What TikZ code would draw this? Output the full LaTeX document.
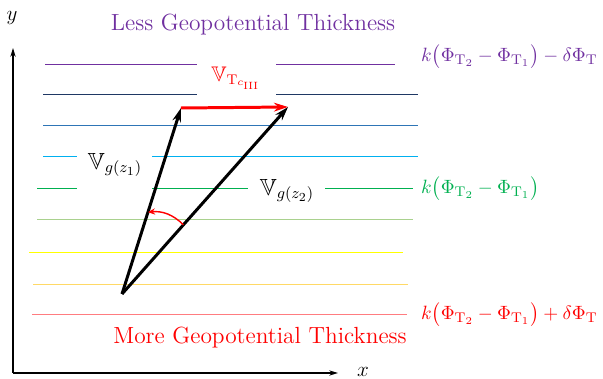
\documentclass[tikz,border=0pt]{standalone}
\usepackage{amsmath,amsfonts,amssymb}
\usepackage{tikz}
\usetikzlibrary{arrows.meta}
\usetikzlibrary{calc}
\usepackage{xcolor}

\definecolor{thinpurple}{RGB}{112,48,160}
\definecolor{thinnavy}{RGB}{31,56,100}
\definecolor{thinblue}{RGB}{46,117,182}
\definecolor{thincyan}{RGB}{0,176,240}
\definecolor{midgreen}{RGB}{0,176,80}
\definecolor{palegreen}{RGB}{169,209,142}
\definecolor{lineyellow}{RGB}{255,255,0}
\definecolor{linegold}{RGB}{255,217,102}
\definecolor{palered}{RGB}{255,124,128}
\definecolor{textred}{RGB}{255,0,0}

\begin{document}
\begin{tikzpicture}[x=0.02cm,y=0.02cm,
    level/.style={line width=0.5pt},
    wind/.style={line width=1.7pt,-{Stealth[length=8pt,width=5pt]}},
    label/.style={font=\large,inner sep=1pt},
    title/.style={font=\fontsize{13.3}{16}\selectfont,inner sep=1pt},
    value/.style={font=\fontsize{11.3}{14}\selectfont,inner sep=1pt,anchor=west}
]
\useasboundingbox (0,0) rectangle (603,379);

% Axes
\coordinate (corner) at (13,6);
\coordinate (ytop) at (13,331);
\coordinate (xend) at (338,6);
\draw[line width=0.9pt,-{Stealth[length=5pt,width=3pt]}] (corner) -- (ytop);
\draw[line width=0.9pt,-{Stealth[length=5pt,width=3pt]}] (corner) -- (xend);
\node[label] (ylab) at (12,361) {$y$};
\node[label] (xlab) at (363,7) {$x$};

% Thickness contours (top: less, bottom: more)
\draw[level,thinpurple] (45,315) -- (197,315);
\draw[level,thinpurple] (276,315) -- (395,315);
\draw[level,thinnavy] (43,285) -- (197,285);
\draw[level,thinnavy] (276,285) -- (418,285);
\draw[level,thinblue] (43,254) -- (418,254);
\draw[level,thincyan] (43,223) -- (77,223);
\draw[level,thincyan] (152,223) -- (418,223);
\draw[level,midgreen] (37,191) -- (77,191);
\draw[level,midgreen] (152,191) -- (248,191);
\draw[level,midgreen] (325,191) -- (413,191);
\draw[level,palegreen] (37,160) -- (413,160);
\draw[level,lineyellow] (29,127) -- (403,127);
\draw[level,linegold] (33,95) -- (408,95);
\draw[level,palered] (32,65) -- (407,65);

% Titles
\node[title,thinpurple] (less) at (253,354) {Less Geopotential Thickness};
\node[title,textred] (more) at (260,41) {More Geopotential Thickness};

% Contour values
\node[value,thinpurple] (valtop) at (419,322)
    {$k\bigl(\Phi_{\mathrm{T}_2}-\Phi_{\mathrm{T}_1}\bigr)-\delta\Phi_{\mathrm{T}}$};
\node[value,midgreen] (valmid) at (419,190)
    {$k\bigl(\Phi_{\mathrm{T}_2}-\Phi_{\mathrm{T}_1}\bigr)$};
\node[value,textred] (valbot) at (419,64)
    {$k\bigl(\Phi_{\mathrm{T}_2}-\Phi_{\mathrm{T}_1}\bigr)+\delta\Phi_{\mathrm{T}}$};

% Wind vectors
\coordinate (base) at (122,85);
\coordinate (tipone) at (181,271);
\coordinate (tiptwo) at (288,272);
\draw[wind] (base) -- (tipone);
\draw[wind] (base) -- (tiptwo);
\draw[wind,textred] (tipone) -- (tiptwo);

\node[title] (vgone) at (115,214) {$\mathbb{V}_{g(z_1)}$};
\node[title] (vgtwo) at (287,188) {$\mathbb{V}_{g(z_2)}$};
\node[label,textred] (vtc) at (236,301) {$\mathbb{V}_{\mathrm{T}_{c_{\mathrm{III}}}}$};

% Turning of the wind with height
\coordinate (turnfrom) at ($(base)!0.37!(tiptwo)$);
\coordinate (turnto) at ($(base)!0.44!(tipone)$);
\draw[textred,line width=0.8pt,-{Stealth[length=4pt,width=3.5pt]}] (turnfrom) to[bend right=25] (turnto);

\end{tikzpicture}
\end{document}
